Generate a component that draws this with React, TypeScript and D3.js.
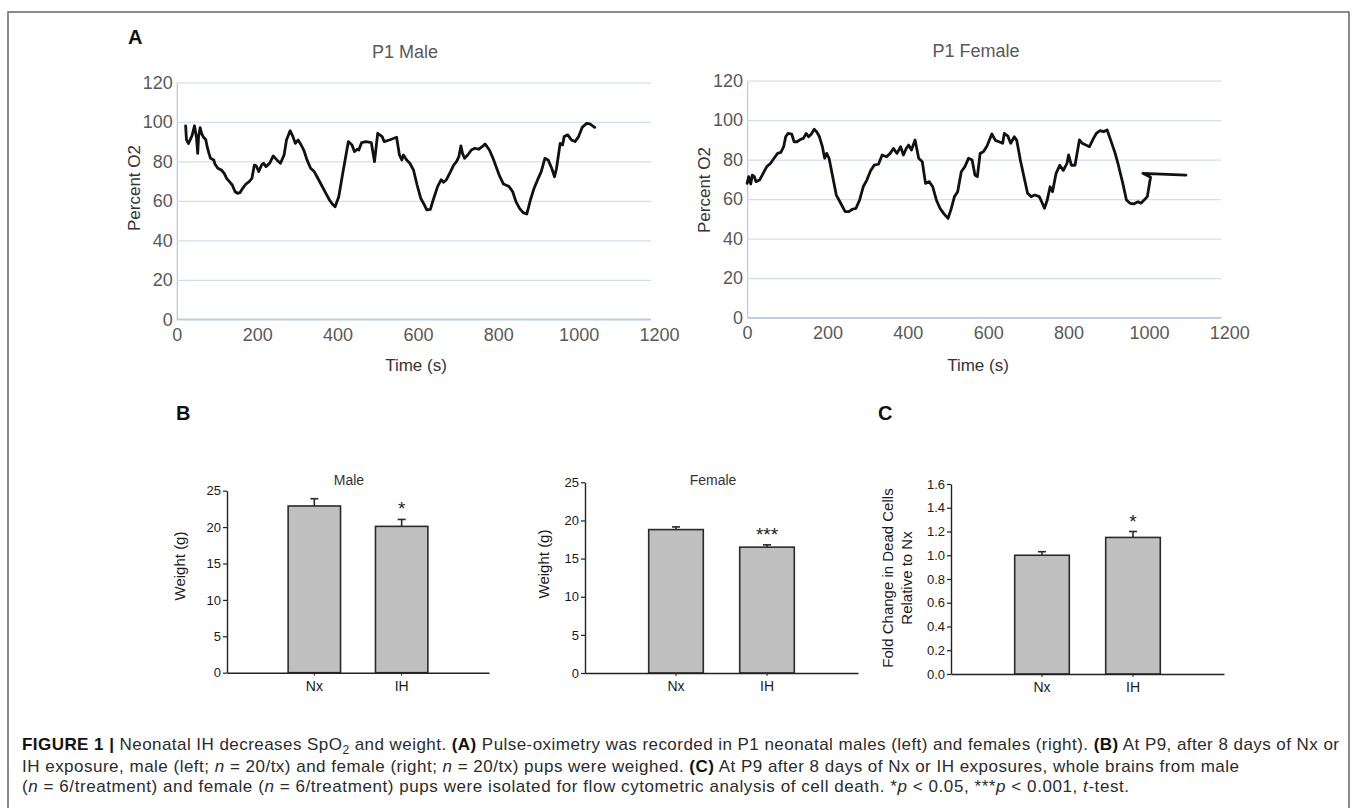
import React, { useEffect, useRef } from "react";
import * as d3 from "d3";

// Panel A: pulse-oximetry traces (time in s, SpO2 in %)
const maleTime = [22, 24, 29, 38, 44, 49, 52, 54, 58, 62, 67, 72, 76, 80, 84, 92, 95, 102, 111, 118, 124, 131, 138, 145, 151, 157, 164, 172, 180, 187, 193, 198, 204, 211, 216, 222, 231, 240, 249, 258, 267, 273, 282, 289, 295, 302, 308, 316, 324, 333, 342, 351, 360, 371, 380, 387, 394, 403, 413, 427, 436, 442, 449, 453, 460, 471, 484, 492, 500, 511, 516, 529, 547, 554, 560, 564, 572, 580, 589, 598, 607, 616, 622, 631, 638, 649, 658, 664, 671, 680, 689, 696, 702, 707, 711, 716, 724, 733, 742, 751, 760, 767, 778, 787, 796, 804, 813, 827, 836, 844, 853, 862, 871, 880, 889, 898, 907, 916, 924, 933, 940, 945, 954, 960, 964, 973, 982, 991, 1000, 1009, 1020, 1028, 1040];
const maleO2 = [97.9, 91, 89, 93, 98, 92, 84, 92, 97, 94, 92, 91, 87, 84, 81.5, 80.7, 78.6, 76.5, 75.6, 73.9, 71.4, 69.7, 68, 64.6, 63.8, 64.1, 66.3, 68.5, 69.7, 71.4, 78.1, 77.6, 74.8, 78.1, 79, 77.3, 79, 82.7, 80.7, 79, 83.2, 90.8, 95.5, 92.5, 89.1, 90.8, 88.8, 85.7, 80.7, 76.5, 74.8, 71.4, 68, 63.8, 60.4, 58.4, 57, 62.1, 73.9, 90, 88.3, 84.9, 86.1, 85.7, 89.5, 90, 89.5, 79.8, 94.2, 92.5, 90, 90.8, 92.2, 83.2, 80.7, 83.2, 80.7, 79, 75.6, 68, 61.3, 57.9, 55.4, 55.7, 60.4, 67.2, 70.7, 69.4, 70.7, 74.3, 78.1, 79.8, 82.4, 87.8, 84, 81.5, 83.2, 85.7, 86.6, 86.1, 87.4, 88.8, 85.7, 81.5, 76.5, 72.2, 68.5, 67.2, 64.6, 59.6, 56.2, 54, 53.3, 60.4, 66.3, 70.7, 74.8, 81.5, 80.7, 76.5, 72.2, 76.5, 89.1, 88.3, 92.5, 93.4, 90.8, 90, 92.5, 97.2, 99.2, 98.9, 97.2];
const femaleTime = [0, 4, 9, 13, 18, 22, 31, 40, 49, 58, 67, 76, 84, 91, 96, 102, 111, 117, 124, 133, 140, 147, 153, 160, 167, 173, 180, 187, 193, 198, 204, 213, 222, 231, 244, 253, 262, 271, 280, 289, 298, 307, 316, 327, 336, 347, 356, 364, 373, 382, 389, 396, 402, 409, 418, 427, 436, 444, 453, 462, 471, 480, 489, 500, 507, 516, 524, 533, 542, 551, 560, 567, 573, 580, 588, 597, 609, 618, 627, 636, 640, 649, 656, 665, 671, 680, 689, 698, 707, 716, 727, 733, 740, 747, 754, 760, 769, 778, 787, 796, 800, 807, 816, 827, 834, 843, 852, 862, 869, 878, 887, 896, 905, 916, 924, 935, 944, 953, 962, 973, 980, 988, 996, 1004, 985, 1092];
const femaleO2 = [68, 71.4, 67.7, 72.2, 71.4, 68.9, 69.7, 73.1, 76.5, 78.1, 80.7, 83.2, 83.7, 86.6, 91.6, 93.3, 93, 89.1, 89.1, 90.3, 90.8, 93.3, 91.6, 93, 95.4, 94.2, 91.6, 86.9, 80.7, 83.2, 80.7, 71.4, 62.1, 58.7, 53.7, 53.7, 54.9, 55.4, 59.6, 66.3, 69.7, 74.3, 77.2, 77.7, 82.4, 81.5, 83.2, 85.7, 83.2, 86.6, 82.4, 85.7, 87.4, 84.9, 90, 80.7, 79, 68, 68.9, 66.3, 59.6, 55.4, 52.8, 50.3, 54.5, 61.3, 63.8, 73.9, 76.5, 80.7, 79.8, 72.2, 71.4, 83.2, 84, 86.9, 93, 89.8, 89.1, 88.3, 93.3, 91.9, 88.3, 91.6, 89.8, 79.8, 71.4, 63, 61.3, 62.1, 61.3, 58.7, 55.4, 59.6, 66.3, 63.8, 73.1, 77.2, 74.6, 78.1, 82.4, 77.2, 77.2, 90, 88.3, 87.4, 86.6, 90.8, 93.3, 94.7, 94.2, 95, 89.8, 83.2, 77.2, 68, 59.6, 57.9, 57.6, 58.7, 58, 59.6, 61.3, 71.1, 73.1, 72.2];
const timeTicks = [0, 200, 400, 600, 800, 1000, 1200];
const o2Ticks = [0, 20, 40, 60, 80, 100, 120];

// Panels B and C: bar charts (mean, SEM)
const groups = ["Nx", "IH"];
const maleWeight = [22.9, 20.1];
const maleWeightSem = [1.0, 0.95];
const maleSig = ["", "*"];
const femaleWeight = [18.8, 16.5];
const femaleWeightSem = [0.35, 0.3];
const femaleSig = ["", "***"];
const deadCells = [1.0, 1.15];
const deadCellsSem = [0.03, 0.05];
const deadSig = ["", "*"];
const weightTicks = [0, 5, 10, 15, 20, 25];
const foldTicks = [0, 0.2, 0.4, 0.6, 0.8, 1.0, 1.2, 1.4, 1.6];

const FONT = "'Liberation Sans', Arial, Helvetica, sans-serif";
const GRID = "#d3deeb";
const AXIS = "#bccbe0";
const GREY_TEXT = "#595959";

function drawTrace(svg, o) {
  const x = d3.scaleLinear().domain([0, 1200]).range([o.left, o.right]);
  const y = d3.scaleLinear().domain([0, 120]).range([o.bottom, o.top]);
  const g = svg.append("g").attr("font-family", FONT);

  // gridlines stop a little short of the last tick, as in the original
  g.append("g")
    .attr("transform", `translate(${o.left},0)`)
    .call(d3.axisLeft(y).tickValues(o2Ticks).tickSize(-(o.right - 8 - o.left)).tickSizeOuter(0).tickPadding(4))
    .call(a => {
      a.attr("font-family", FONT);
      a.select(".domain").attr("stroke", AXIS).attr("stroke-width", 1.3);
      a.selectAll(".tick line").attr("stroke", d => (d === 0 ? AXIS : GRID)).attr("stroke-width", 1.3);
      a.selectAll(".tick text").attr("font-size", 18).attr("fill", GREY_TEXT);
    });

  g.append("g")
    .attr("transform", `translate(0,${o.bottom})`)
    .call(d3.axisBottom(x).tickValues(timeTicks).tickFormat(d3.format("d")).tickSize(0).tickPadding(9))
    .call(a => {
      a.attr("font-family", FONT);
      a.select(".domain").remove();
      a.selectAll(".tick text").attr("font-size", 18).attr("fill", GREY_TEXT);
    });

  g.append("line")
    .attr("x1", o.left).attr("x2", o.right - 8)
    .attr("y1", o.bottom).attr("y2", o.bottom)
    .attr("stroke", AXIS).attr("stroke-width", 1.5);

  const line = d3.line().x(d => x(d[0])).y(d => y(d[1]));
  g.append("path")
    .datum(d3.zip(o.time, o.o2))
    .attr("d", line)
    .attr("fill", "none")
    .attr("stroke", "#111")
    .attr("stroke-width", 2.8)
    .attr("stroke-linejoin", "round")
    .attr("stroke-linecap", "round");

  g.append("text").attr("x", o.titleX).attr("y", o.titleY)
    .attr("text-anchor", "middle").attr("font-size", 18).attr("fill", GREY_TEXT)
    .text(o.title);
  g.append("text")
    .attr("transform", `translate(${o.ylabelX},${o.ylabelY}) rotate(-90)`)
    .attr("text-anchor", "middle").attr("font-size", 17).attr("fill", "#333")
    .text("Percent O2");
  g.append("text").attr("x", o.xlabelX).attr("y", 371)
    .attr("text-anchor", "middle").attr("font-size", 17).attr("fill", "#333")
    .text("Time (s)");
}

function drawBars(svg, o) {
  const x = d3.scaleBand().domain(groups).range([o.left, o.right]).paddingInner(0.4).paddingOuter(0.7);
  const y = d3.scaleLinear().domain([0, o.max]).range([o.bottom, o.top]);
  const g = svg.append("g").attr("font-family", FONT);

  g.append("g")
    .selectAll("rect")
    .data(groups)
    .join("rect")
    .attr("x", d => x(d))
    .attr("y", (d, i) => y(o.values[i]))
    .attr("width", x.bandwidth())
    .attr("height", (d, i) => y(0) - y(o.values[i]))
    .attr("fill", "#c0c0c0")
    .attr("stroke", "#2a2a2a")
    .attr("stroke-width", 1.6);

  const err = g.append("g").attr("stroke", "#2a2a2a").attr("stroke-width", 1.6);
  groups.forEach((k, i) => {
    const cx = x(k) + x.bandwidth() / 2;
    const top = y(o.values[i] + o.errs[i]);
    err.append("line").attr("x1", cx).attr("x2", cx).attr("y1", y(o.values[i])).attr("y2", top);
    err.append("line").attr("x1", cx - 4).attr("x2", cx + 4).attr("y1", top).attr("y2", top);
    if (o.sigs[i]) {
      g.append("text").attr("x", cx).attr("y", top - 4)
        .attr("text-anchor", "middle").attr("font-size", 19).attr("fill", "#222")
        .text(o.sigs[i]);
    }
  });

  g.append("g")
    .attr("transform", `translate(${o.left},0)`)
    .call(d3.axisLeft(y).tickValues(o.ticks).tickSize(4).tickSizeOuter(0).tickPadding(2).tickFormat(o.format))
    .call(a => {
      a.attr("font-family", FONT);
      a.select(".domain").attr("stroke", "#222").attr("stroke-width", 1.4);
      a.selectAll(".tick line").attr("stroke", "#222").attr("stroke-width", 1.2);
      a.selectAll(".tick text").attr("font-size", 13).attr("fill", "#1a1a1a");
    });

  g.append("g")
    .attr("transform", `translate(0,${o.bottom})`)
    .call(d3.axisBottom(x).tickSize(3).tickSizeOuter(0).tickPadding(5))
    .call(a => {
      a.attr("font-family", FONT);
      a.select(".domain").attr("stroke", "#222").attr("stroke-width", 1.4);
      a.selectAll(".tick line").attr("stroke", "#222");
      a.selectAll(".tick text").attr("font-size", 14).attr("fill", "#1a1a1a");
    });

  if (o.title) {
    g.append("text").attr("x", o.titleX).attr("y", 485)
      .attr("text-anchor", "middle").attr("font-size", 14).attr("fill", "#333")
      .text(o.title);
  }
  o.ylabel.forEach((t, i) => {
    g.append("text")
      .attr("transform", `translate(${o.ylabelX[i]},${o.ylabelY}) rotate(-90)`)
      .attr("text-anchor", "middle").attr("font-size", 15).attr("fill", "#1a1a1a")
      .text(t);
  });
}

function captionLine(svg, y, width, parts) {
  const t = svg.append("text")
    .attr("x", 22).attr("y", y)
    .attr("font-family", FONT).attr("font-size", 17).attr("fill", "#2b2b2b")
    .attr("textLength", width).attr("lengthAdjust", "spacing");
  parts.forEach(p => {
    const s = typeof p === "string" ? { t: p } : p;
    const ts = t.append("tspan").text(s.t);
    if (s.b) ts.attr("font-weight", "bold").attr("fill", "#111");
    if (s.i) ts.attr("font-style", "italic");
    if (s.sub) ts.attr("font-size", 12).attr("dy", 4);
    if (s.after) ts.attr("dy", -4);
  });
}

export default function App() {
  const ref = useRef<SVGSVGElement>(null);

  useEffect(() => {
    const svg = d3.select(ref.current);
    svg.selectAll("*").remove();

    svg.append("rect").attr("width", 1357).attr("height", 808).attr("fill", "#fff");
    svg.append("rect")
      .attr("x", 8).attr("y", 12).attr("width", 1341).attr("height", 830)
      .attr("fill", "none").attr("stroke", "#666").attr("stroke-width", 1.5);

    const letter = (t, x, y) =>
      svg.append("text").attr("x", x).attr("y", y)
        .attr("font-family", FONT).attr("font-weight", "bold").attr("font-size", 20).attr("fill", "#111")
        .text(t);
    letter("A", 128, 44);
    letter("B", 176, 420);
    letter("C", 878, 420);

    drawTrace(svg, {
      time: maleTime, o2: maleO2,
      left: 176.8, right: 659, top: 82.3, bottom: 319.3,
      title: "P1 Male", titleX: 405, titleY: 58,
      ylabelX: 140, ylabelY: 188, xlabelX: 416,
    });
    drawTrace(svg, {
      time: femaleTime, o2: femaleO2,
      left: 747.1, right: 1229.3, top: 80.7, bottom: 317.7,
      title: "P1 Female", titleX: 976, titleY: 57,
      ylabelX: 710, ylabelY: 190, xlabelX: 978,
    });

    drawBars(svg, {
      values: maleWeight, errs: maleWeightSem, sigs: maleSig,
      ticks: weightTicks, max: 25, format: d3.format("d"),
      left: 227, right: 489, top: 490.7, bottom: 672.7,
      title: "Male", titleX: 349,
      ylabel: ["Weight (g)"], ylabelX: [185], ylabelY: 566,
    });
    drawBars(svg, {
      values: femaleWeight, errs: femaleWeightSem, sigs: femaleSig,
      ticks: weightTicks, max: 25, format: d3.format("d"),
      left: 585, right: 858, top: 482.3, bottom: 673,
      title: "Female", titleX: 713,
      ylabel: ["Weight (g)"], ylabelX: [549], ylabelY: 564,
    });
    drawBars(svg, {
      values: deadCells, errs: deadCellsSem, sigs: deadSig,
      ticks: foldTicks, max: 1.6, format: d3.format(".1f"),
      left: 951, right: 1224, top: 484, bottom: 674,
      title: "", titleX: 0,
      ylabel: ["Fold Change in Dead Cells", "Relative to Nx"], ylabelX: [893, 912], ylabelY: 578,
    });

    captionLine(svg, 750, 1317, [
      { t: "FIGURE 1", b: true }, { t: " | ", b: true },
      "Neonatal IH decreases SpO", { t: "2", sub: true }, { t: " and weight. ", after: true },
      { t: "(A)", b: true },
      " Pulse-oximetry was recorded in P1 neonatal males (left) and females (right). ",
      { t: "(B)", b: true }, " At P9, after 8 days of Nx or",
    ]);
    captionLine(svg, 771.7, 1217, [
      "IH exposure, male (left; ", { t: "n", i: true }, " = 20/tx) and female (right; ",
      { t: "n", i: true }, " = 20/tx) pups were weighed. ", { t: "(C)", b: true },
      " At P9 after 8 days of Nx or IH exposures, whole brains from male",
    ]);
    captionLine(svg, 791.7, 1107, [
      "(", { t: "n", i: true }, " = 6/treatment) and female (", { t: "n", i: true },
      " = 6/treatment) pups were isolated for flow cytometric analysis of cell death. *",
      { t: "p", i: true }, " < 0.05, ***", { t: "p", i: true }, " < 0.001, ",
      { t: "t", i: true }, "-test.",
    ]);
  }, []);

  return (
    <svg
      ref={ref}
      width={1357}
      height={808}
      style={{ position: "absolute", left: 0, top: 0, display: "block" }}
    />
  );
}
